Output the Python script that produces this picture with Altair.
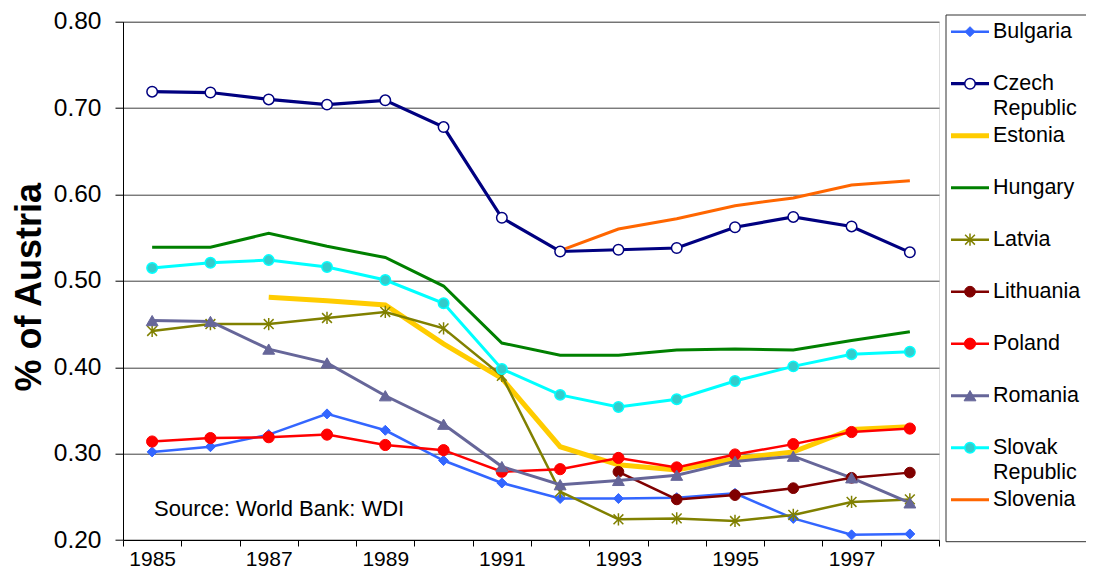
import altair as alt
import pandas as pd

years = list(range(1985, 1999))
countries = ["Bulgaria", "Czech Republic", "Estonia", "Hungary", "Latvia",
             "Lithuania", "Poland", "Romania", "Slovak Republic", "Slovenia"]

bulgaria = [0.302, 0.308, 0.322, 0.346, 0.327, 0.292, 0.266, 0.248, 0.248, 0.249, 0.254, 0.225, 0.206, 0.207]
czech = [0.719, 0.718, 0.710, 0.704, 0.709, 0.678, 0.573, 0.534, 0.536, 0.538, 0.562, 0.574, 0.563, 0.533]
estonia = [None, None, 0.481, 0.477, 0.472, 0.427, 0.387, 0.308, 0.287, 0.281, 0.294, 0.302, 0.328, 0.331]
hungary = [0.539, 0.539, 0.555, 0.540, 0.527, 0.494, 0.428, 0.414, 0.414, 0.420, 0.421, 0.420, 0.431, 0.441]
latvia = [0.442, 0.450, 0.450, 0.457, 0.464, 0.445, 0.390, 0.256, 0.224, 0.225, 0.222, 0.229, 0.244, 0.247]
lithuania = [None, None, None, None, None, None, None, None, 0.279, 0.247, 0.252, 0.260, 0.272, 0.278]
poland = [0.314, 0.318, 0.319, 0.322, 0.310, 0.304, 0.279, 0.282, 0.295, 0.284, 0.299, 0.311, 0.325, 0.329]
romania = [0.454, 0.453, 0.421, 0.405, 0.367, 0.334, 0.285, 0.264, 0.269, 0.275, 0.291, 0.297, 0.272, 0.243]
slovak = [0.515, 0.521, 0.524, 0.516, 0.501, 0.474, 0.398, 0.368, 0.354, 0.363, 0.384, 0.401, 0.415, 0.418]
slovenia = [None, None, None, None, None, None, None, 0.535, 0.560, 0.572, 0.587, 0.596, 0.611, 0.616]

series = [bulgaria, czech, estonia, hungary, latvia, lithuania, poland, romania, slovak, slovenia]

legend_line1 = ["Bulgaria", "Czech", "Estonia", "Hungary", "Latvia",
                "Lithuania", "Poland", "Romania", "Slovak", "Slovenia"]
legend_line2 = ["", "Republic", "", "", "", "", "", "", "Republic", ""]

y_ticks = [0.2, 0.3, 0.4, 0.5, 0.6, 0.7, 0.8]
source_note = "Source: World Bank: WDI"

# styles
ASTER = "M0,-1L0,1M-0.8,-0.8L0.8,0.8M-0.8,0.8L0.8,-0.8"
line_colors = ["#3366FF", "#000080", "#FFCC00", "#008000", "#808000",
               "#800000", "#FF0000", "#666699", "#00FFFF", "#FF6600"]
line_widths = [2.5, 3.2, 5, 3, 2.5, 2.5, 2.5, 3, 3, 3]
m_shapes = ["diamond", "circle", None, None, ASTER, "circle", "circle", "triangle-up", "circle", None]
m_fills = ["#3366FF", "#FFFFFF", None, None, "none", "#800000", "#FF0000", "#666699", "#33CCCC", None]
m_strokes = ["#3366FF", "#000080", None, None, "#808000", "#800000", "#FF0000", "#666699", "#00FFFF", None]
m_sizes = [100, 110, 0, 0, 150, 115, 125, 140, 110, 0]
m_sw = [1, 1.5, 0, 0, 1.5, 1, 1, 1, 1.5, 0]

FONT = "Liberation Sans, Arial, sans-serif"

rows = []
for ci, c in enumerate(countries):
    for yr, v in zip(years, series[ci]):
        if v is not None:
            rows.append({"country": c, "year": yr, "value": v})
df = pd.DataFrame(rows)

x0, x1 = years[0] - 0.5, years[-1] + 0.5
tick_vals = [x0 + i for i in range(len(years) + 1)]
W, H = 816, 518.3
step = W / len(years)

x_enc = alt.X("year:Q", scale=alt.Scale(domain=[x0, x1], nice=False, zero=False),
              axis=alt.Axis(values=tick_vals, grid=False, title=None,
                            labelExpr="((datum.value - %s) %% 2 == 0 && datum.value < %s) ? format(datum.value + 0.5, 'd') : ''" % (x0, x1),
                            labelOffset=step / 2, tickSize=6, labelFontSize=21, labelPadding=2,
                            labelFlush=False, labelOverlap=False, labelFont=FONT,
                            labelColor="black", tickColor="black", domainColor="black"))
y_enc = alt.Y("value:Q", scale=alt.Scale(domain=[0.2, 0.8], nice=False, zero=False),
              axis=alt.Axis(values=y_ticks, format=".2f", title="% of Austria",
                            titleFontSize=36, titleFontWeight="bold", titleFont=FONT,
                            titleX=-94, titleY=265, titleAngle=270, titleBaseline="middle",
                            titleAlign="center", titleColor="black",
                            labelFontSize=24.5, labelFont=FONT, labelColor="black", labelPadding=14,
                            tickSize=8, tickColor="black", domainColor="black",
                            grid=True, gridColor="#404040", gridWidth=1))

base = alt.Chart(df)
lines = []
points = []
for ci, c in enumerate(countries):
    sub = base.transform_filter(alt.datum.country == c)
    lines.append(sub.mark_line(color=line_colors[ci], strokeWidth=line_widths[ci]).encode(x=x_enc, y=y_enc))
    if m_shapes[ci] is not None:
        points.append(sub.mark_point(shape=m_shapes[ci], size=m_sizes[ci], filled=True,
                                     fill=m_fills[ci], stroke=m_strokes[ci],
                                     strokeWidth=m_sw[ci], opacity=1).encode(x=x_enc, y=y_enc))

note = alt.Chart(pd.DataFrame({"t": [source_note]})).mark_text(
    align="left", baseline="middle", fontSize=22, font=FONT, color="black"
).encode(x=alt.value(31), y=alt.value(487), text="t:N")

main = alt.layer(*lines, *points, note)

# legend
leg = pd.DataFrame({
    "idx": list(range(len(countries))),
    "l1": legend_line1, "l2": legend_line2,
    "lc": line_colors, "lw": line_widths,
    "shape": [s if s else "circle" for s in m_shapes],
    "mfill": [f if f else "none" for f in m_fills],
    "mstroke": [s if s else "none" for s in m_strokes],
    "msize": m_sizes, "msw": m_sw,
    "has": [s is not None for s in m_shapes],
})
ly = alt.Y("idx:Q", scale=alt.Scale(domain=[0, 9], range=[10, 478]), axis=None)
lbase = alt.Chart(leg)
leg_lines = lbase.mark_rule().encode(
    x=alt.value(828), x2=alt.value(866), y=ly,
    color=alt.Color("lc:N", scale=None), strokeWidth=alt.StrokeWidth("lw:Q", scale=None))
leg_pts = lbase.transform_filter(alt.datum.has).mark_point(filled=True, opacity=1).encode(
    x=alt.value(847), y=ly,
    shape=alt.Shape("shape:N", scale=None), fill=alt.Fill("mfill:N", scale=None),
    stroke=alt.Stroke("mstroke:N", scale=None), size=alt.Size("msize:Q", scale=None),
    strokeWidth=alt.StrokeWidth("msw:Q", scale=None))
leg_t1 = lbase.mark_text(align="left", baseline="middle", fontSize=21.5, font=FONT, color="black").encode(
    x=alt.value(870), y=ly, text="l1:N")
leg_t2 = lbase.mark_text(align="left", baseline="middle", fontSize=21.5, font=FONT, color="black", dy=25).encode(
    x=alt.value(870), y=ly, text="l2:N")
box = alt.Chart(pd.DataFrame({"a": [0]})).mark_rect(fill="white", stroke="#333333", strokeWidth=1).encode(
    x=alt.value(823), x2=alt.value(975), y=alt.value(-6.7), y2=alt.value(520))
legend = alt.layer(box, leg_lines, leg_pts, leg_t1, leg_t2)

chart = alt.layer(main, legend).resolve_scale(y="independent").properties(
    width=W, height=H,
    autosize=alt.AutoSizeParams(type="none"),
    padding={"left": 115, "top": 13.7, "right": 147, "bottom": 32},
).configure_view(stroke="black", strokeWidth=1).configure(background="white")

chart.save("out.html", embed_options={"renderer": "svg", "actions": False})
